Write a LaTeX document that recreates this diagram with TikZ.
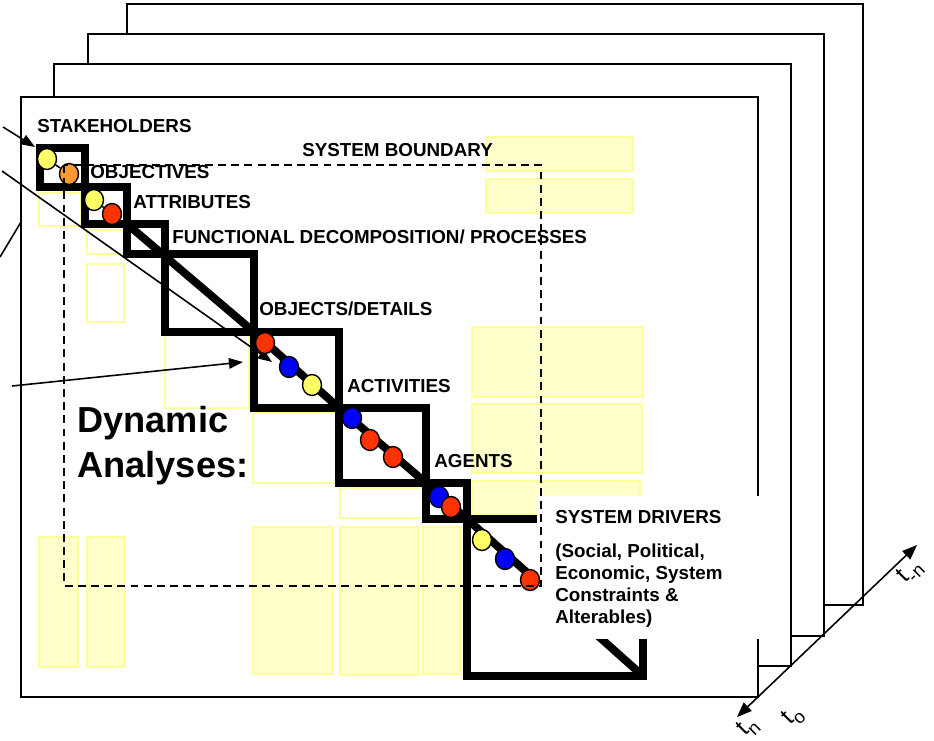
\documentclass[tikz,border=0pt]{standalone}
\usepackage{fontspec}
\setmainfont{Liberation Sans}
\usetikzlibrary{arrows.meta,shapes.geometric}
\definecolor{cyel}{HTML}{FFFF66}
\definecolor{cora}{HTML}{FF9933}
\definecolor{cred}{HTML}{FF3300}
\definecolor{cblu}{HTML}{0000FF}
\definecolor{byfill}{HTML}{FFFFCC}
\definecolor{bydraw}{HTML}{FFFF99}
\begin{document}
\begin{tikzpicture}[x=0.02cm,y=-0.02cm,
  page/.style={draw=black,fill=white,line width=1.1pt},
  ybox/.style={draw=bydraw,fill=byfill,line width=0.8pt},
  yout/.style={draw=bydraw,line width=0.8pt},
  stair/.style={line width=4pt,line join=miter},
  diag/.style={line width=4.5pt},
  thinln/.style={line width=0.9pt},
  arr/.style={line width=0.9pt,-{Triangle[length=8pt,width=6pt]}},
  dot/.style={ellipse,draw=black,line width=0.8pt,minimum width=0.38cm,minimum height=0.42cm,inner sep=0pt},
  lab/.style={font=\bfseries\fontsize{10.7}{13}\selectfont,anchor=base west,inner sep=0pt},
  big/.style={font=\bfseries\fontsize{20.6}{25}\selectfont,anchor=base west,inner sep=0pt},
  tlab/.style={font=\fontsize{14}{16}\selectfont,rotate=45,inner sep=0pt}]
\useasboundingbox (0,0) rectangle (934,741);
% stacked pages
\draw[page] (127,4) rectangle (863,605);
\draw[page] (88,34) rectangle (824,636);
\draw[page] (54,64) rectangle (791,666);
\draw[page] (21,97) rectangle (758,697);
% time axis
\coordinate (tA) at (737,717);
\coordinate (tB) at (917,545);
\draw[line width=0.9pt,{Triangle[length=8.5pt,width=6.5pt]}-{Triangle[length=8.5pt,width=6.5pt]}] (tA) -- (tB);
\node[tlab] (tn) at (748,727) {t\raisebox{-0.5ex}{\fontsize{10.5}{12}\selectfont n}};
\node[tlab] (to) at (793,716) {t\raisebox{-0.5ex}{\fontsize{10.5}{12}\selectfont o}};
\node[tlab] (tmn) at (910,572) {t\raisebox{-0.5ex}{\fontsize{10.5}{12}\selectfont -n}};
% yellow boxes (filled)
\draw[ybox] (486,137) rectangle (633,171);
\draw[ybox] (486,179) rectangle (633,213);
\draw[ybox] (472,327) rectangle (643,397);
\draw[ybox] (472,404) rectangle (642,473);
\draw[ybox] (472,481) rectangle (640,514);
\draw[ybox] (253,527) rectangle (333,674);
\draw[ybox] (340,527) rectangle (418,675);
\draw[ybox] (423,527) rectangle (460,674);
\draw[ybox] (39,537) rectangle (78,667);
\draw[ybox] (87,537) rectangle (125,667);
% yellow boxes (outline)
\draw[yout] (39,193) rectangle (81,226);
\draw[yout] (87,230) rectangle (124,254);
\draw[yout] (87,264) rectangle (124,322);
\draw[yout] (165,335) rectangle (249,408);
\draw[yout] (253,412) rectangle (336,483);
\draw[yout] (340,488) rectangle (423,518);
% thin lines and arrows
\coordinate (a1s) at (3,127);  \coordinate (a1e) at (35,147);
\coordinate (a2s) at (2,171);  \coordinate (a2e) at (272,362);
\coordinate (a3s) at (12,386); \coordinate (a3e) at (243,362);
\coordinate (a4s) at (0,257);  \coordinate (a4e) at (21,222);
\draw[arr] (a1s) -- (a1e);
\draw[arr] (a2s) -- (a2e);
\draw[arr] (a3s) -- (a3e);
\draw[thinln] (a4s) -- (a4e);
% staircase corners
\coordinate (k0) at (40,148);
\coordinate (k1) at (85,187);
\coordinate (k2) at (127,224);
\coordinate (k3) at (165,254);
\coordinate (k4) at (254,332);
\coordinate (k5) at (339,408);
\coordinate (k6) at (426,483);
\coordinate (k7) at (467,519);
\coordinate (k8) at (643,676);
\draw[stair] (k0) rectangle (k1);
\draw[stair] (k1) rectangle (k2);
\draw[stair] (k2) rectangle (k3);
\draw[stair] (k3) rectangle (k4);
\draw[stair] (k4) rectangle (k5);
\draw[stair] (k5) rectangle (k6);
\draw[stair] (k6) rectangle (k7);
\draw[stair] (k7) rectangle (k8);
\draw[diag] (k2) -- (k4);
\draw[diag] (k4) -- (k5);
\draw[diag] (k5) -- (k6);
\draw[diag] (k6) -- (k7);
\draw[diag] (k7) -- (k8);
% white panel behind system drivers text
\fill[white] (537,496) rectangle (778,639);
% circles
\node[dot,fill=cyel] (c1) at (47,159) {};
\node[dot,fill=cora] (c2) at (69,174) {};
\node[dot,fill=cyel] (c3) at (94,200) {};
\node[dot,fill=cred] (c4) at (112,214) {};
\draw[thinln] (c1) -- (c2);
\draw[thinln] (c3) -- (c4);
\node[dot,fill=cred] (c5) at (265,343) {};
\node[dot,fill=cblu] (c6) at (289,367) {};
\node[dot,fill=cyel] (c7) at (312,385) {};
\node[dot,fill=cblu] (c8) at (352,418) {};
\node[dot,fill=cred] (c9) at (370,440) {};
\node[dot,fill=cred] (c10) at (393,457) {};
\node[dot,fill=cblu] (c11) at (439,497) {};
\node[dot,fill=cred] (c12) at (451,507) {};
\node[dot,fill=cyel] (c13) at (482,540) {};
\node[dot,fill=cblu] (c14) at (505,559) {};
\node[dot,fill=cred] (c15) at (530,580) {};
% system boundary
\draw[dashed,line width=0.8pt,dash pattern=on 4.5pt off 3pt] (64,165) rectangle (541,586);
% labels
\node[lab] (stake) at (37,132) {STAKEHOLDERS};
\node[lab] (sysb) at (302,156) {SYSTEM BOUNDARY};
\node[lab] (obj) at (90,178) {OBJECTIVES};
\node[lab] (attr) at (133,208) {ATTRIBUTES};
\node[lab] (func) at (172,243) {FUNCTIONAL DECOMPOSITION/ PROCESSES};
\node[lab] (objd) at (259,315) {OBJECTS/DETAILS};
\node[lab] (act) at (347,392) {ACTIVITIES};
\node[lab] (agt) at (434,467) {AGENTS};
\node[lab] (drv) at (555,523) {SYSTEM DRIVERS};
\node[lab] (drv1) at (555,557) {(Social, Political,};
\node[lab] (drv2) at (555,579) {Economic, System};
\node[lab] (drv3) at (555,601) {Constraints \&};
\node[lab] (drv4) at (555,623) {Alterables)};
\node[big] (dyn1) at (77,432) {Dynamic};
\node[big] (dyn2) at (77,477) {Analyses:};
\end{tikzpicture}
\end{document}
